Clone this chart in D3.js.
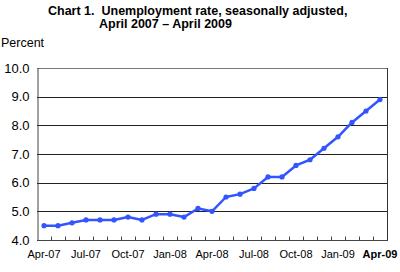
<!DOCTYPE html>
<meta charset="utf-8">
<style>
body { margin: 0; background: #fff; }
svg text { font-family: "Liberation Sans", Arial, sans-serif; fill: #000; white-space: pre; }
</style>
<svg width="400" height="272"></svg>
<script src="https://cdn.jsdelivr.net/npm/d3@7"></script>
<script>

var months = ["Apr-07","May-07","Jun-07","Jul-07","Aug-07","Sep-07","Oct-07","Nov-07","Dec-07",
              "Jan-08","Feb-08","Mar-08","Apr-08","May-08","Jun-08","Jul-08","Aug-08","Sep-08",
              "Oct-08","Nov-08","Dec-08","Jan-09","Feb-09","Mar-09","Apr-09"];
var rates = [4.5,4.5,4.6,4.7,4.7,4.7,4.8,4.7,4.9,4.9,4.8,5.1,5.0,5.5,5.6,5.8,6.2,6.2,6.6,6.8,7.2,7.6,8.1,8.5,8.9];
var yTicks = [4,5,6,7,8,9,10];
var xLabels = ["Apr-07","Jul-07","Oct-07","Jan-08","Apr-08","Jul-08","Oct-08","Jan-09","Apr-09"];

var svg = d3.select("svg");
var plotLeft = 37, plotRight = 387, plotTop = 68, plotBottom = 240;

var x = d3.scaleBand().domain(months).range([plotLeft, plotRight]).padding(0);
var y = d3.scaleLinear().domain([4, 10]).range([plotBottom, plotTop]);

// title
svg.append("text").attr("x", 48).attr("y", 15)
    .style("font-weight", "bold").style("font-size", "12.5px")
    .text("Chart 1.  Unemployment rate, seasonally adjusted,");
svg.append("text").attr("x", 99).attr("y", 28)
    .style("font-weight", "bold").style("font-size", "12.5px")
    .text("April 2007 \u2013 April 2009");
svg.append("text").attr("x", 1).attr("y", 47)
    .style("font-size", "12.5px").text("Percent");

// gridlines
svg.append("g")
    .selectAll("line")
    .data(yTicks.filter(function(d) { return d > 4; }))
    .enter().append("line")
    .attr("x1", plotLeft).attr("x2", plotRight)
    .attr("y1", function(d) { return Math.round(y(d)) + 0.5; })
    .attr("y2", function(d) { return Math.round(y(d)) + 0.5; })
    .attr("stroke", function(d) { return d == 10 ? "#777" : "#222"; });

// right border
svg.append("line")
    .attr("x1", plotRight + 0.5).attr("x2", plotRight + 0.5)
    .attr("y1", y(10)).attr("y2", plotBottom)
    .attr("stroke", "#333");

// y axis
var yAxis = svg.append("g").attr("transform", "translate(" + (plotLeft + 0.5) + ",0)")
    .call(d3.axisLeft(y).tickValues(yTicks).tickSize(0).tickPadding(8)
        .tickFormat(d3.format(".1f")));
yAxis.select(".domain").attr("stroke", "#444");
yAxis.selectAll("text").style("font-size", "13px").attr("fill", "#000")
    .style("font-family", "'Liberation Sans', Arial, sans-serif");

// x axis: ticks between months, pointing up into the plot
var xAxis = svg.append("g").attr("transform", "translate(0," + (plotBottom + 0.5) + ")");
xAxis.append("line").attr("x1", plotLeft).attr("x2", plotRight + 1)
    .attr("stroke", "#444");
xAxis.selectAll(".tick")
    .data(months.slice(1))
    .enter().append("line")
    .attr("x1", function(d) { return Math.round(x(d)) + 0.5; })
    .attr("x2", function(d) { return Math.round(x(d)) + 0.5; })
    .attr("y1", 0).attr("y2", -4)
    .attr("stroke", "#444");
xAxis.selectAll("text")
    .data(xLabels)
    .enter().append("text")
    .attr("x", function(d) { return x(d) + x.bandwidth() / 2; })
    .attr("y", 17)
    .attr("text-anchor", "middle")
    .style("font-size", "11px")
    .style("font-weight", function(d) { return d == "Apr-09" ? "bold" : "normal"; })
    .text(function(d) { return d; });

// line
var line = d3.line()
    .x(function(d, i) { return x(months[i]) + x.bandwidth() / 2; })
    .y(function(d) { return y(d); });

svg.append("path").datum(rates)
    .attr("fill", "none")
    .attr("stroke", "#3355ff")
    .attr("stroke-width", 2.5)
    .attr("stroke-linejoin", "round")
    .attr("d", line);

svg.append("g").selectAll("circle")
    .data(rates)
    .enter().append("circle")
    .attr("cx", function(d, i) { return x(months[i]) + x.bandwidth() / 2; })
    .attr("cy", function(d) { return y(d); })
    .attr("r", 2.6)
    .attr("fill", "#3355ff");

</script>
